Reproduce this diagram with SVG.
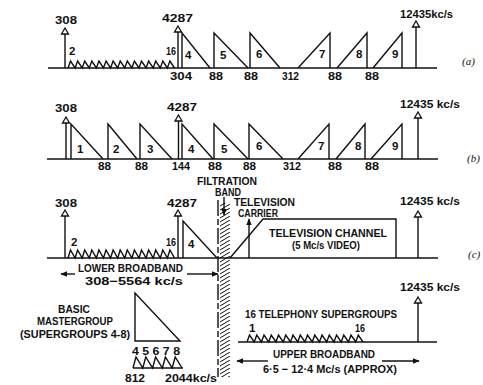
<svg xmlns="http://www.w3.org/2000/svg" xmlns:xlink="http://www.w3.org/1999/xlink" width="483" height="385" viewBox="0 0 483 385">
<style>
.ln{fill:none;stroke:#111;stroke-width:1.4;stroke-linejoin:miter}
.tx{font-family:"Liberation Sans",Arial,sans-serif;font-weight:bold;font-size:11.5px;fill:#111}
.sm{font-size:11px}
.fb{font-size:10.5px}
.lb{font-family:"Liberation Serif","Times New Roman",serif;font-style:italic;font-size:11px;fill:#111}
.hh{fill:#fff;stroke:#111;stroke-width:1.3}
</style>
<defs>
<path id="hh" class="hh" d="M0,0 L3.5,6 L-3.5,6 Z"/>
<marker id="ah" viewBox="0 0 10 10" refX="9" refY="5" markerWidth="7" markerHeight="7" markerUnits="userSpaceOnUse" orient="auto">
<path d="M0,1 L10,5 L0,9 Z" fill="#111"/>
</marker>
<pattern id="hatch" patternUnits="userSpaceOnUse" x="220" y="0" width="10" height="4">
<path d="M0,2 L10,-4 M0,6 L10,0" stroke="#111" stroke-width="1"/>
</pattern>
</defs>

<g id="connectors">
<!-- row a -->
<path class="ln" d="M48,68 H437"/>
<path class="ln" d="M65,34 V68 M178,32 V68 M416,27 V68"/>
<path class="ln" d="M68,68 l2.5,-7 l4.6,7 l2.5,-7 l4.6,7 l2.5,-7 l4.6,7 l2.5,-7 l4.6,7 l2.5,-7 l4.6,7 l2.5,-7 l4.6,7 l2.5,-7 l4.6,7 l2.5,-7 l4.6,7 l2.5,-7 l4.6,7 l2.5,-7 l4.6,7 l2.5,-7 l4.6,7 l2.5,-7 l4.6,7 l2.5,-7 l4.6,7 l2.5,-7 l4.6,7 l2.5,-7 l4.6,7"/>
<path class="ln" d="M182,68 V33 L210,68 M214,68 V33 L248,68 M250,68 V33 L280,68 M298,68 L330,33 V68 M337,68 L367,33 V68 M373,68 L402,33 V68"/>
<use xlink:href="#hh" x="65" y="28"/><use xlink:href="#hh" x="178" y="26"/><use xlink:href="#hh" x="416" y="21"/>
<!-- row b -->
<path class="ln" d="M47,159 H438"/>
<path class="ln" d="M66,123 V159 M178.5,121 V159 M418,118 V159"/>
<path class="ln" d="M71,159 V124 L103,159 M108,159 V124 L137,159 M140,159 V124 L172,159 M182,159 V124 L213,159 M214,159 V124 L248,159 M249,159 V124 L283,159 M298,159 L329,124 V159 M336,159 L365,124 V159 M371,159 L402,124 V159"/>
<use xlink:href="#hh" x="66" y="117"/><use xlink:href="#hh" x="178.5" y="115"/><use xlink:href="#hh" x="418" y="112"/>
<!-- row c -->
<rect x="220" y="203" width="10" height="174" fill="url(#hatch)"/>
<path class="ln" d="M218,200 V377" stroke-dasharray="16 3 6 3"/>
<path class="ln" d="M47,258 H438"/>
<path class="ln" d="M65,216 V258 M178,216 V258 M418,217 V258"/>
<path class="ln" d="M68,258 l2.5,-8 l4.6,8 l2.5,-8 l4.6,8 l2.5,-8 l4.6,8 l2.5,-8 l4.6,8 l2.5,-8 l4.6,8 l2.5,-8 l4.6,8 l2.5,-8 l4.6,8 l2.5,-8 l4.6,8 l2.5,-8 l4.6,8 l2.5,-8 l4.6,8 l2.5,-8 l4.6,8 l2.5,-8 l4.6,8 l2.5,-8 l4.6,8 l2.5,-8 l4.6,8 l2.5,-8 l4.6,8"/>
<path class="ln" d="M183,258 V221 L217,258"/>
<path class="ln" d="M230,258 L263,219 H396 V258"/>
<path class="ln" d="M249,258 V219" marker-end="url(#ah)"/>
<path class="ln" d="M224,197 V215" marker-end="url(#ah)"/>
<use xlink:href="#hh" x="65" y="210"/><use xlink:href="#hh" x="178" y="210"/><use xlink:href="#hh" x="418" y="211"/>
<path class="ln" d="M75,274 H61" marker-end="url(#ah)"/>
<path class="ln" d="M187,274 H218" marker-end="url(#ah)"/>
<!-- mastergroup -->
<path class="ln" d="M135,293 V341 H180 Z"/>
<path class="ln" d="M133,368 l3,-11 l6.8,11 l3,-11 l6.8,11 l3,-11 l6.8,11 l3,-11 l6.8,11 l3,-11 l6.8,11"/>
<path class="ln" d="M133,368 H183"/>
<!-- upper broadband -->
<path class="ln" d="M238,342 H437"/>
<path class="ln" d="M418,303 V342"/>
<use xlink:href="#hh" x="418" y="297"/>
<path class="ln" d="M247,342 l2.5,-7 l4.75,7 l2.5,-7 l4.75,7 l2.5,-7 l4.75,7 l2.5,-7 l4.75,7 l2.5,-7 l4.75,7 l2.5,-7 l4.75,7 l2.5,-7 l4.75,7 l2.5,-7 l4.75,7 l2.5,-7 l4.75,7 l2.5,-7 l4.75,7 l2.5,-7 l4.75,7 l2.5,-7 l4.75,7 l2.5,-7 l4.75,7 l2.5,-7 l4.75,7 l2.5,-7 l4.75,7 l2.5,-7 l4.75,7"/>
<path class="ln" d="M268,361 H237" marker-end="url(#ah)"/>
<path class="ln" d="M382,361 H419" marker-end="url(#ah)"/>
</g>

<g id="row-a">
<text class="tx" x="55" y="24" textLength="22" lengthAdjust="spacingAndGlyphs">308</text>
<text class="tx" x="162" y="22" textLength="31" lengthAdjust="spacingAndGlyphs">4287</text>
<text class="tx sm" x="400" y="18" textLength="53" lengthAdjust="spacingAndGlyphs">12435kc/s</text>
<text class="tx" x="69" y="55">2</text>
<text class="tx" x="166" y="55" textLength="10" lengthAdjust="spacingAndGlyphs">16</text>
<text class="tx" x="185" y="59">4</text>
<text class="tx" x="220" y="59">5</text>
<text class="tx" x="256" y="58">6</text>
<text class="tx" x="319" y="58">7</text>
<text class="tx" x="356" y="58">8</text>
<text class="tx" x="392" y="58">9</text>
<text class="tx" x="170" y="80" textLength="22" lengthAdjust="spacingAndGlyphs">304</text>
<text class="tx" x="209" y="80" textLength="14" lengthAdjust="spacingAndGlyphs">88</text>
<text class="tx" x="244" y="80" textLength="14" lengthAdjust="spacingAndGlyphs">88</text>
<text class="tx" x="282" y="80" textLength="17" lengthAdjust="spacingAndGlyphs">312</text>
<text class="tx" x="328" y="80" textLength="14" lengthAdjust="spacingAndGlyphs">88</text>
<text class="tx" x="365" y="80" textLength="14" lengthAdjust="spacingAndGlyphs">88</text>
<text class="lb" x="462" y="65">(a)</text>
</g>

<g id="row-b">
<text class="tx" x="55" y="112" textLength="22" lengthAdjust="spacingAndGlyphs">308</text>
<text class="tx" x="167" y="111" textLength="30" lengthAdjust="spacingAndGlyphs">4287</text>
<text class="tx sm" x="400" y="108" textLength="60" lengthAdjust="spacingAndGlyphs">12435 kc/s</text>
<text class="tx" x="77" y="153">1</text>
<text class="tx" x="113" y="153">2</text>
<text class="tx" x="147" y="153">3</text>
<text class="tx" x="188" y="153">4</text>
<text class="tx" x="221" y="153">5</text>
<text class="tx" x="256" y="150">6</text>
<text class="tx" x="318" y="150">7</text>
<text class="tx" x="355" y="150">8</text>
<text class="tx" x="392" y="150">9</text>
<text class="tx" x="98" y="170" textLength="13" lengthAdjust="spacingAndGlyphs">88</text>
<text class="tx" x="135" y="170" textLength="13" lengthAdjust="spacingAndGlyphs">88</text>
<text class="tx" x="172" y="170" textLength="18" lengthAdjust="spacingAndGlyphs">144</text>
<text class="tx" x="208" y="170" textLength="14" lengthAdjust="spacingAndGlyphs">88</text>
<text class="tx" x="243" y="170" textLength="13" lengthAdjust="spacingAndGlyphs">88</text>
<text class="tx" x="283" y="170" textLength="18" lengthAdjust="spacingAndGlyphs">312</text>
<text class="tx" x="328" y="170" textLength="14" lengthAdjust="spacingAndGlyphs">88</text>
<text class="tx" x="365" y="170" textLength="14" lengthAdjust="spacingAndGlyphs">88</text>
<text class="lb" x="467" y="162">(b)</text>
</g>

<g id="row-c">
<text class="tx" x="55" y="207" textLength="22" lengthAdjust="spacingAndGlyphs">308</text>
<text class="tx" x="167" y="207" textLength="30" lengthAdjust="spacingAndGlyphs">4287</text>
<text class="tx sm" x="400" y="205" textLength="60" lengthAdjust="spacingAndGlyphs">12435 kc/s</text>
<text class="tx" x="71" y="246">2</text>
<text class="tx" x="166" y="246" textLength="10" lengthAdjust="spacingAndGlyphs">16</text>
<text class="tx" x="188" y="248">4</text>
<text class="lb" x="468" y="258">(c)</text>
</g>

<g id="filtration-band">
<text class="tx fb" x="197" y="185" textLength="60" lengthAdjust="spacingAndGlyphs">FILTRATION</text>
<text class="tx fb" x="215" y="196" textLength="26" lengthAdjust="spacingAndGlyphs">BAND</text>
</g>

<g id="tv-carrier">
<text class="tx" x="234" y="206" textLength="61" lengthAdjust="spacingAndGlyphs">TELEVISION</text>
<text class="tx" x="238" y="217" textLength="40" lengthAdjust="spacingAndGlyphs">CARRIER</text>
</g>

<g id="tv-channel">
<text class="tx" x="269" y="237" textLength="118" lengthAdjust="spacingAndGlyphs">TELEVISION CHANNEL</text>
<text class="tx" x="292" y="249" textLength="68" lengthAdjust="spacingAndGlyphs">(5 Mc/s VIDEO)</text>
</g>

<g id="lower-broadband">
<text class="tx" x="78" y="272" textLength="105" lengthAdjust="spacingAndGlyphs">LOWER BROADBAND</text>
<text class="tx" x="85" y="285" textLength="98" lengthAdjust="spacingAndGlyphs">308−5564 kc/s</text>
</g>

<g id="mastergroup">
<text class="tx" x="58" y="313" textLength="32" lengthAdjust="spacingAndGlyphs">BASIC</text>
<text class="tx" x="37" y="325" textLength="76" lengthAdjust="spacingAndGlyphs">MASTERGROUP</text>
<text class="tx" x="20" y="338" textLength="110" lengthAdjust="spacingAndGlyphs">(SUPERGROUPS 4-8)</text>
<text class="tx" x="132" y="355" textLength="48" lengthAdjust="spacingAndGlyphs">4 5 6 7 8</text>
<text class="tx" x="125" y="382" textLength="20" lengthAdjust="spacingAndGlyphs">812</text>
<text class="tx" x="165" y="382" textLength="52" lengthAdjust="spacingAndGlyphs">2044kc/s</text>
</g>

<g id="upper-broadband">
<text class="tx sm" x="400" y="291" textLength="60" lengthAdjust="spacingAndGlyphs">12435 kc/s</text>
<text class="tx" x="245" y="318" textLength="152" lengthAdjust="spacingAndGlyphs">16 TELEPHONY SUPERGROUPS</text>
<text class="tx" x="249" y="332">1</text>
<text class="tx" x="355" y="332" textLength="10" lengthAdjust="spacingAndGlyphs">16</text>
<text class="tx" x="273" y="358" textLength="102" lengthAdjust="spacingAndGlyphs">UPPER BROADBAND</text>
<text class="tx" x="263" y="373" textLength="134" lengthAdjust="spacingAndGlyphs">6·5 − 12·4 Mc/s (APPROX)</text>
</g>
</svg>
